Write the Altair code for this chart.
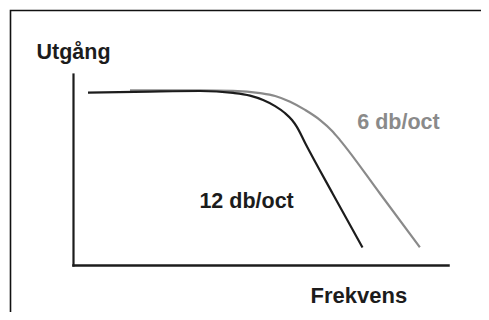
import altair as alt
import pandas as pd

# Curve readings (frequency units 0-100, output units 0-100)
x_12 = [4.0, 20.5, 33.9, 42.7, 47.2, 50.7, 53.9, 56.5, 58.4, 59.7, 61.9, 69.3, 77.2]
y_12 = [90.2, 90.8, 91.1, 90.1, 88.7, 86.4, 83.2, 79.6, 75.9, 72.3, 63.9, 37.2, 9.2]
x_6 = [15.2, 33.9, 42.7, 49.9, 53.9, 57.9, 61.9, 65.9, 69.1, 71.2, 81.9, 92.5]
y_6 = [91.4, 91.4, 91.2, 90.0, 88.5, 85.5, 81.2, 75.9, 70.2, 65.4, 37.3, 9.3]

series_names = ["6 db/oct", "12 db/oct"]
series_colors = ["#8a8a8a", "#1c1c1c"]

label_text = ["6 db/oct", "12 db/oct"]
label_x = [75.8, 33.7]
label_y = [71.2, 30.0]

rows = []
for xv, yv in zip(x_6, y_6):
    rows.append({"f": xv, "out": yv, "s": "6 db/oct"})
for xv, yv in zip(x_12, y_12):
    rows.append({"f": xv, "out": yv, "s": "12 db/oct"})
df = pd.DataFrame(rows)
labels = pd.DataFrame({"t": label_text, "f": label_x, "out": label_y})

FONT = "Liberation Sans"
FS = 21.5

xs = alt.Scale(domain=[0, 100], nice=False, zero=False)
ys = alt.Scale(domain=[0, 100], nice=False, zero=False)
cs = alt.Scale(domain=series_names, range=series_colors)

xax = alt.Axis(ticks=False, labels=False, grid=False, domainColor="#1c1c1c",
               domainWidth=2.5, domainCap="square", title="Frekvens",
               titleFont=FONT, titleFontSize=22, titleFontWeight="bold",
               titleColor="#1c1c1c", titleAlign="left", titleBaseline="alphabetic",
               titleAnchor="start", titleX=237, titleY=37)
yax = alt.Axis(ticks=False, labels=False, grid=False, domainColor="#1c1c1c",
               domainWidth=2.2, domainCap="square", title="Utgång",
               titleFont=FONT, titleFontSize=FS, titleFontWeight="bold",
               titleColor="#1c1c1c", titleAngle=0, titleAlign="left",
               titleBaseline="alphabetic", titleAnchor="start", titleX=-37, titleY=-16)

frame = alt.Chart(pd.DataFrame({"a": [0]})).mark_rect(
    fill="transparent", stroke="#111111", strokeWidth=1.6
).encode(x=alt.value(-62.5), x2=alt.value(700), y=alt.value(-63.5), y2=alt.value(500))

base = alt.Chart(df).encode(
    x=alt.X("f:Q", scale=xs, axis=xax),
    y=alt.Y("out:Q", scale=ys, axis=yax),
    color=alt.Color("s:N", scale=cs, legend=None),
    order=alt.Order("f:Q"),
)
gray = base.transform_filter(alt.datum.s == "6 db/oct").mark_line(
    interpolate="monotone", strokeWidth=2.2)
black = base.transform_filter(alt.datum.s == "12 db/oct").mark_line(
    interpolate="monotone", strokeWidth=2.2)

text = alt.Chart(labels).mark_text(
    font=FONT, fontSize=FS, fontWeight="bold", align="left", baseline="alphabetic"
).encode(
    x=alt.X("f:Q", scale=xs),
    y=alt.Y("out:Q", scale=ys),
    text="t:N",
    color=alt.Color("t:N", scale=cs, legend=None),
)

chart = alt.layer(frame, gray, black, text).properties(
    width=375, height=191,
    autosize=alt.AutoSizeParams(type="none"),
    padding={"left": 65, "top": 66, "right": 33, "bottom": 47},
    background="white",
).configure_view(strokeWidth=0)

chart.save("out.html", embed_options={"renderer": "svg", "actions": False})
